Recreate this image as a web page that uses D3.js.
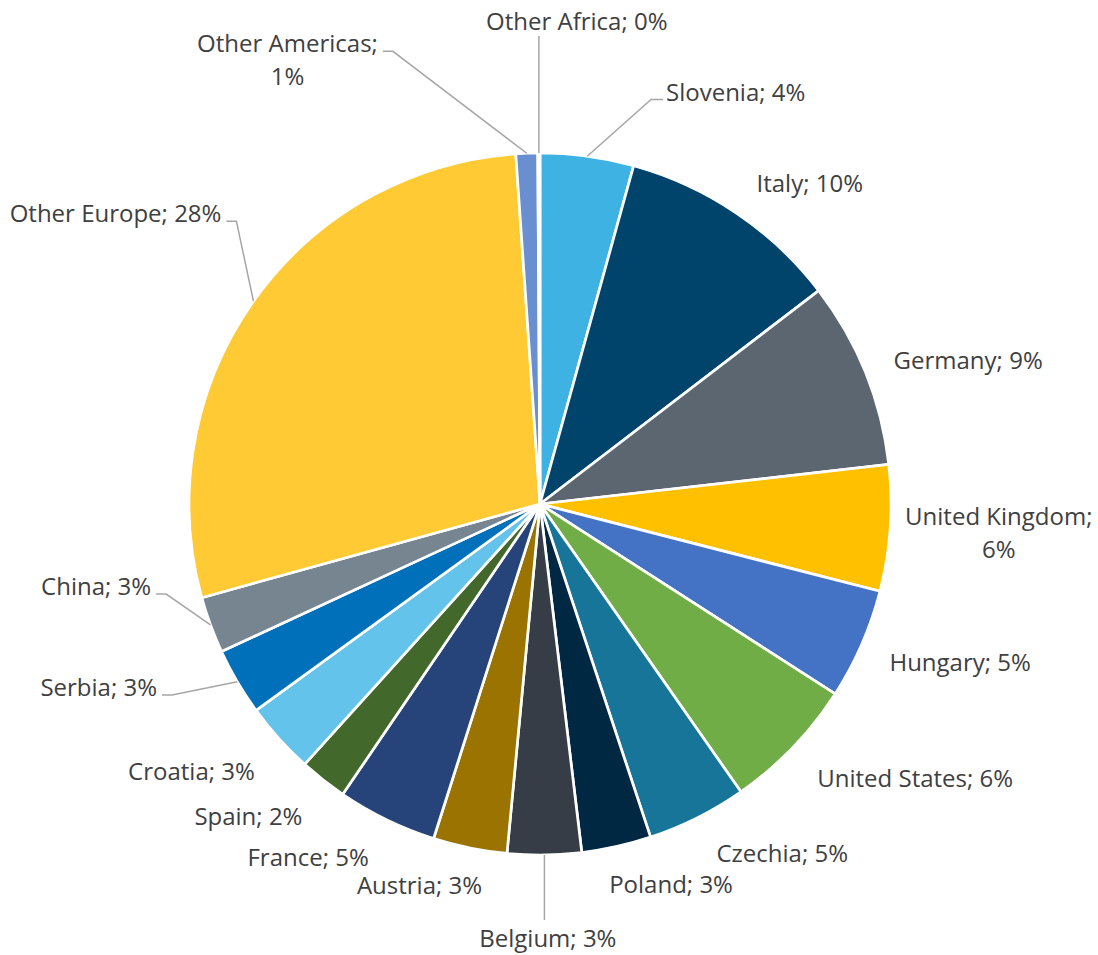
<!DOCTYPE html>
<html>
<head>
<meta charset="utf-8">
<script src="https://cdn.jsdelivr.net/npm/d3@7"></script>
<style>
  body { margin: 0; background: #fff; }
  .lbl { font-family: "Open Sans", sans-serif; font-size: 24px; fill: #404040; }
</style>
</head>
<body>
<div id="chart"></div>
<script>
// share of total (%), clockwise from 12 o'clock
const countries = ["Slovenia", "Italy", "Germany", "United Kingdom", "Hungary", "United States",
  "Czechia", "Poland", "Belgium", "Austria", "France", "Spain", "Croatia", "Serbia", "China",
  "Other Europe", "Other Americas", "Other Africa"];
const shares = [4.3, 10.3, 8.6, 5.8, 5.1, 6.2, 4.6, 3.2, 3.4, 3.4, 4.6, 2.2, 3.3, 3.1, 2.6, 28.2, 1.0, 0.1];
const colors = ["#3db2e3", "#00436b", "#5c6670", "#ffc000", "#4472c4", "#70ad47",
  "#167599", "#002843", "#373d46", "#9a7300", "#264479", "#43682b", "#63c3ea", "#0070bb", "#778591",
  "#ffca33", "#6a8fd1", "#a5a5a5"];

// label layout: two-line labels, hand moved labels (dx, dy) and which ones get a leader line
const wrapped = ["United Kingdom", "Other Americas"];
const labelNudge = {
  "Other Africa": [39, -93],
  "Slovenia": [111, -26],
  "Other Americas": [-226, -38],
  "Other Europe": [-10, -65],
  "China": [-34, -51],
  "Serbia": [-57, -13],
  "Belgium": [0, 46],
  "Italy": [5, 2],
  "Germany": [3, 2],
  "United Kingdom": [-12, 1],
  "Hungary": [3, 3],
  "United States": [5, 5],
  "Czechia": [7, 2],
  "Poland": [0, 1],
  "Austria": [0, 1],
  "France": [-6, 4],
  "Spain": [-4, 7],
  "Croatia": [-4, 8]
};
const withLeader = ["Other Africa", "Slovenia", "Other Americas", "Other Europe", "China", "Serbia", "Belgium"];

const w = 1098, h = 955;
const cx = 540, cy = 504, r = 351;
const labelR = r + 27;
const lineH = 33;

let svg = d3.select('#chart')
  .append('svg')
  .attr('width', w)
  .attr('height', h);

let g = svg.append('g').attr('transform', 'translate(' + cx + ',' + cy + ')');

let data = countries.map((c, i) => ({ name: c, share: shares[i], color: colors[i] }));

let pie = d3.pie().sort(null).value(d => d.share);
let arc = d3.arc().innerRadius(0).outerRadius(r);
let arcs = pie(data);

g.selectAll('path.slice')
  .data(arcs)
  .enter()
  .append('path')
  .attr('class', 'slice')
  .attr('d', arc)
  .attr('fill', d => d.data.color)
  .attr('stroke', '#fff')
  .attr('stroke-width', 2.7)
  .attr('stroke-linejoin', 'round');

let leaders = g.append('g');
let labels = g.append('g');

arcs.forEach(d => {
  let name = d.data.name;
  let pct = Math.round(d.data.share);
  let mid = (d.startAngle + d.endAngle) / 2;
  let sin = Math.sin(mid), cos = Math.cos(mid);

  let lines = wrapped.includes(name) ? [name + ';', pct + '%'] : [name + '; ' + pct + '%'];
  let t = labels.append('text').attr('class', 'lbl').attr('text-anchor', 'middle');
  lines.forEach((s, i) => {
    t.append('tspan').attr('x', 0).attr('dy', i ? lineH : 0).text(s);
  });
  let tw = d3.max(t.selectAll('tspan').nodes(), n => n.getComputedTextLength());
  let bh = 22 + (lines.length - 1) * lineH;

  // excel-ish outside end placement
  let px = labelR * sin, py = -labelR * cos;
  let fx = Math.max(-1, Math.min(1, 3.6 * sin));
  let left = px + (fx - 1) * tw / 2;
  let boxMid = py - cos * bh / 2;
  let base = boxMid - bh / 2 + 19;

  let nudge = labelNudge[name] || [0, 0];
  left += nudge[0];
  base += nudge[1];
  t.attr('transform', 'translate(' + (left + tw / 2) + ',' + base + ')');

  if (!withLeader.includes(name)) return;
  let ax = r * sin, ay = -r * cos;
  let right = left + tw;
  let pts;
  if (ax > left && ax < right) {
    if (ay > base) pts = [[ax, base + 6], [ax, ay]];
    else pts = [[ax, ay], [ax, base - 27]];
  } else if (ax > right) {
    pts = [[right + 5, base - 1], [right + 15, base - 1], [ax, ay]];
  } else {
    pts = [[left - 3, base - 1], [left - 15, base - 1], [ax, ay]];
  }
  leaders.append('path')
    .attr('d', d3.line()(pts))
    .attr('fill', 'none')
    .attr('stroke', '#a6a6a6')
    .attr('stroke-width', 1.5);
});
</script>
</body>
</html>
